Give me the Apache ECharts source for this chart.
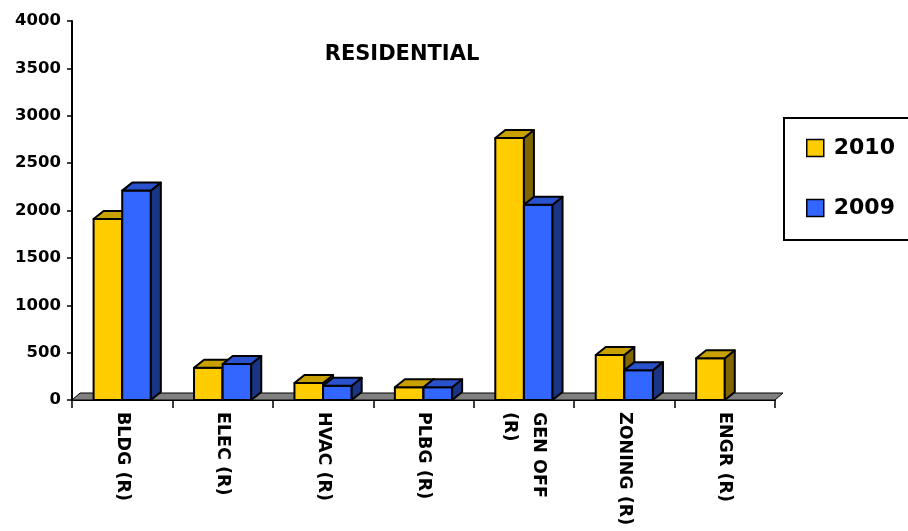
<!DOCTYPE html>
<html>
<head>
<meta charset="utf-8">
<script src="https://cdn.jsdelivr.net/npm/echarts@6/dist/echarts.min.js"></script>
<style>
html,body{margin:0;padding:0;background:#fff;}
#chart{width:908px;height:531px;}
</style>
</head>
<body>
<div id="chart"></div>
<script>
const categories = ['BLDG (R)', 'ELEC (R)', 'HVAC (R)', 'PLBG (R)', 'GEN OFF\n(R)', 'ZONING (R)', 'ENGR (R)'];
const values2010 = [1910, 340, 180, 135, 2765, 475, 440];
const values2009 = [2210, 380, 150, 135, 2060, 315, null];
const yTicks = { min: 0, max: 4000, interval: 500 };

const FONT = 'DejaVu Sans';
const DX = 10, DY = -8;

function makeRender(slot, front, topC, sideC) {
  return function (params, api) {
    const cat = api.value(0);
    const val = api.value(1);
    if (val == null || isNaN(val)) return;
    const base = api.coord([cat, 0]);
    const top = api.coord([cat, val]);
    const bw = api.size([1, 0])[0] * 0.285;
    const x0 = slot === 0 ? base[0] - bw : base[0];
    const ty = top[1], by = base[1];
    const st = { stroke: '#000', lineWidth: 2, lineJoin: 'round' };
    return {
      type: 'group',
      children: [
        { type: 'rect', shape: { x: x0, y: ty, width: bw, height: by - ty },
          style: Object.assign({ fill: front }, st) },
        { type: 'polygon', shape: { points: [[x0 + bw, ty], [x0 + bw + DX, ty + DY], [x0 + bw + DX, by + DY], [x0 + bw, by]] },
          style: Object.assign({ fill: sideC }, st) },
        { type: 'polygon', shape: { points: [[x0, ty], [x0 + bw, ty], [x0 + bw + DX, ty + DY], [x0 + DX, ty + DY]] },
          style: Object.assign({ fill: topC }, st) }
      ]
    };
  };
}

function renderFloor(params, api) {
  const cs = params.coordSys;
  const yb = cs.y + cs.height;
  return {
    type: 'polygon',
    shape: { points: [[cs.x, yb], [cs.x + cs.width, yb], [cs.x + cs.width + 8, yb - 7], [cs.x + 8, yb - 7]] },
    style: { fill: '#808080', stroke: '#000', lineWidth: 1 }
  };
}

const chart = echarts.init(document.getElementById('chart'), null, { renderer: 'canvas' });
chart.setOption({
  animation: false,
  backgroundColor: '#fff',
  title: {
    text: 'RESIDENTIAL',
    left: 397, top: 39, textAlign: 'center',
    textStyle: { fontFamily: FONT, fontSize: 21, fontWeight: 'bold', color: '#000' }
  },
  legend: {
    data: ['2010', '2009'],
    orient: 'vertical',
    left: 784, top: 118,
    icon: 'rect',
    itemWidth: 17, itemHeight: 17,
    itemGap: 38,
    padding: [19, 60, 21, 22],
    borderColor: '#000', borderWidth: 2,
    itemStyle: { borderColor: '#000', borderWidth: 1.5 },
    textStyle: { fontFamily: FONT, fontSize: 22, fontWeight: 'bold', color: '#000', lineHeight: 22, padding: [0, 0, 0, 5] }
  },
  grid: { left: 72, right: 133, top: 21, bottom: 131, containLabel: false },
  xAxis: {
    type: 'category',
    data: categories,
    boundaryGap: true,
    axisLine: { lineStyle: { color: '#000', width: 2 } },
    axisTick: { show: true, length: 8, lineStyle: { color: '#000', width: 1.5 } },
    axisLabel: {
      interval: 0, rotate: -90, margin: 12,
      fontFamily: FONT, fontSize: 17.5, fontWeight: 'bold', color: '#000', lineHeight: 29
    },
    splitLine: { show: false }
  },
  yAxis: {
    type: 'value',
    min: yTicks.min, max: yTicks.max, interval: yTicks.interval,
    axisLine: { show: true, lineStyle: { color: '#000', width: 2 } },
    axisTick: { show: true, length: 5, lineStyle: { color: '#000', width: 1.5 } },
    axisLabel: { margin: 11, fontFamily: FONT, fontSize: 16.5, fontWeight: 'bold', color: '#000',
      formatter: v => String(v) },
    splitLine: { show: false }
  },
  series: [
    { type: 'custom', name: 'floor', z: 1, renderItem: renderFloor, data: [[0, 0]], silent: true, legendHoverLink: false },
    { type: 'custom', name: '2010', z: 3,
      itemStyle: { color: '#FFCC00', borderColor: '#000', borderWidth: 1.5 },
      renderItem: makeRender(0, '#FFCC00', '#C8A000', '#7F6600'),
      data: values2010.map((v, i) => [i, v]) },
    { type: 'custom', name: '2009', z: 3,
      itemStyle: { color: '#3366FF', borderColor: '#000', borderWidth: 1.5 },
      renderItem: makeRender(1, '#3366FF', '#2952CC', '#1B3585'),
      data: values2009.map((v, i) => [i, v]) }
  ]
});
</script>
</body>
</html>
